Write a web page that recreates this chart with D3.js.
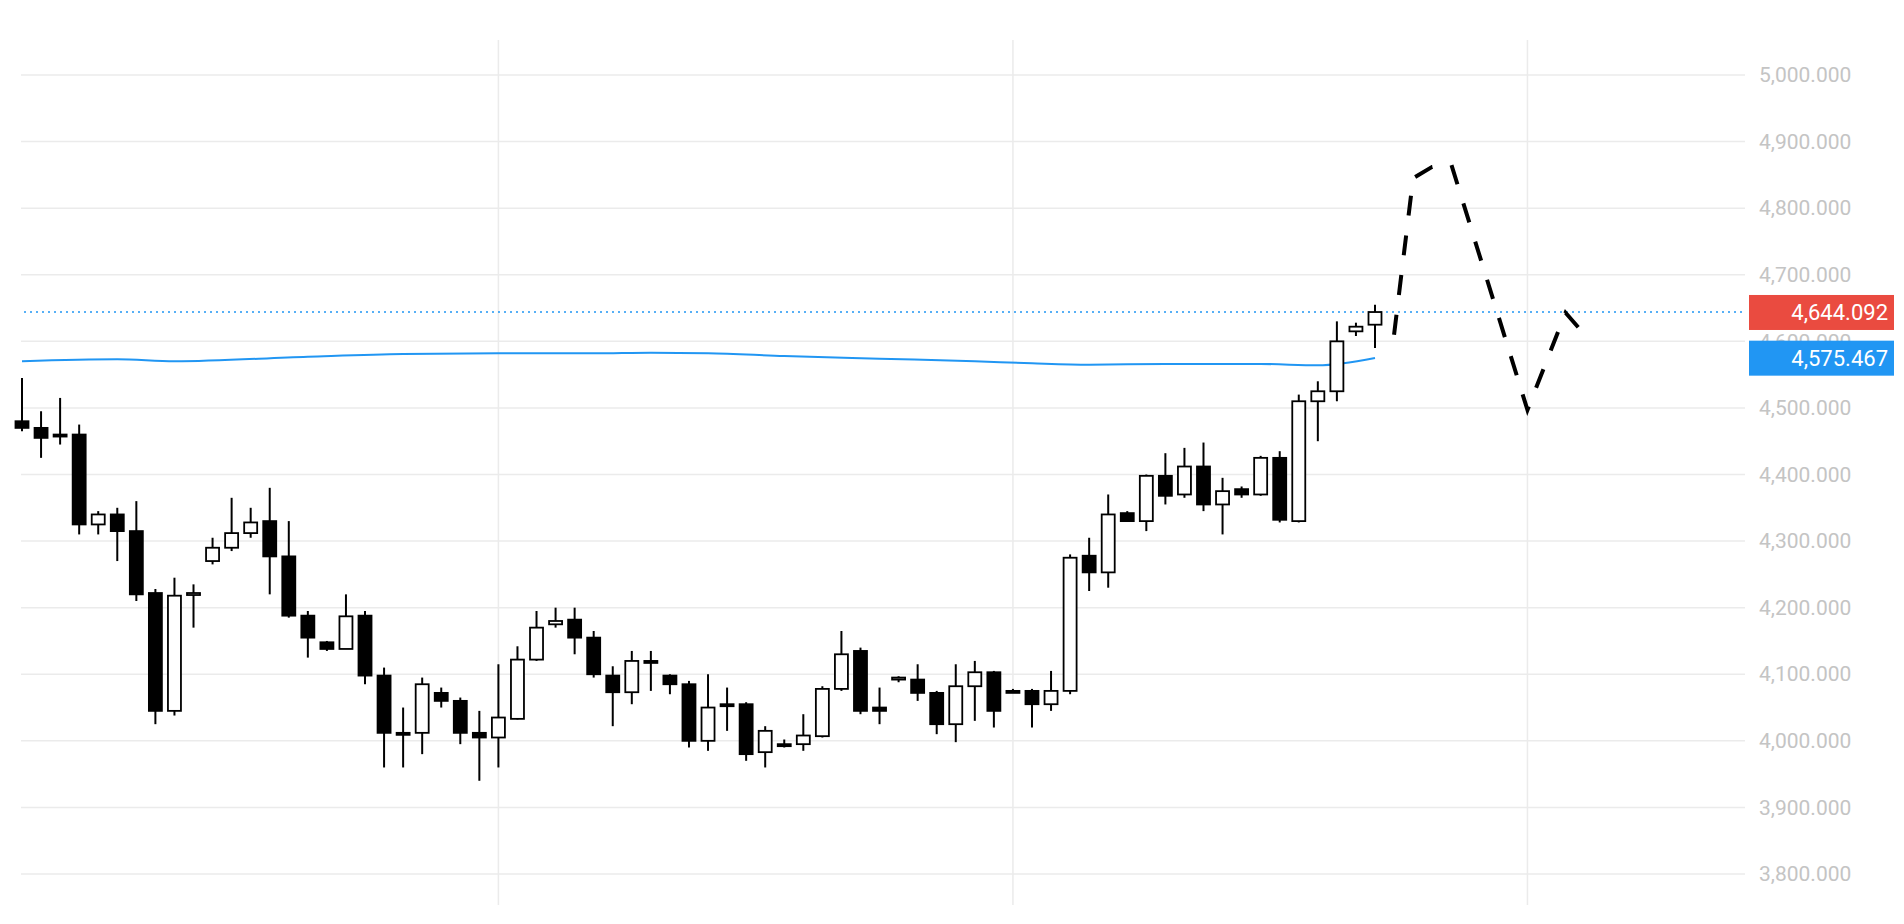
<!DOCTYPE html><html><head><meta charset="utf-8"><script src="https://cdn.jsdelivr.net/npm/d3@7"></script>
<style>body{margin:0;background:#fff}svg{display:block;font-family:"Helvetica Neue",Roboto,Arial,sans-serif}</style></head><body><svg id="c" width="1904" height="924"></svg><script>
const opens=[4480,4470,4460,4460,4325,4340,4315,4222,4045,4220,4270,4290,4312,4330,4277,4188,4148,4138,4188,4098,4012,4012,4072,4060,4012,4005,4033,4122,4175,4182,4155,4098,4073,4120,4098,4085,4000,4055,4055,3983,3995,3995,4007,4078,4135,4050,4093,4092,4072,4025,4082,4103,4075,4075,4055,4075,4278,4253,4342,4330,4398,4370,4412,4355,4378,4370,4425,4330,4510,4525,4615,4625];
const closes=[4470,4455,4458,4325,4340,4315,4220,4045,4218,4222,4290,4312,4328,4277,4188,4155,4138,4187,4098,4012,4010,4085,4060,4012,4005,4035,4122,4170,4180,4155,4100,4073,4120,4118,4085,4000,4050,4053,3980,4015,3993,4008,4078,4130,4045,4045,4095,4072,4025,4082,4103,4045,4074,4055,4075,4275,4253,4340,4330,4398,4368,4412,4355,4375,4370,4425,4332,4510,4525,4600,4622,4644];
const highs=[4545,4495,4515,4475,4345,4350,4360,4228,4245,4235,4305,4365,4350,4380,4330,4195,4150,4220,4195,4110,4050,4095,4080,4065,4045,4115,4142,4195,4200,4200,4165,4112,4135,4135,4100,4090,4100,4080,4058,4022,4002,4040,4082,4165,4140,4080,4097,4115,4075,4115,4120,4105,4078,4078,4105,4280,4305,4370,4345,4400,4432,4440,4448,4395,4382,4428,4435,4520,4540,4630,4628,4655];
const lows=[4465,4425,4445,4310,4310,4270,4210,4025,4038,4170,4265,4285,4305,4220,4185,4125,4135,4138,4085,3960,3960,3980,4050,3995,3940,3960,4032,4120,4170,4130,4095,4022,4055,4075,4070,3990,3985,4015,3970,3960,3990,3985,4005,4075,4040,4025,4088,4060,4010,3998,4030,4020,4072,4020,4045,4070,4225,4230,4330,4315,4355,4365,4345,4310,4365,4368,4328,4328,4450,4510,4608,4590];
const maIdx=[0,5,8,15,20,25,30,33,36,40,45,50,53,56,60,65,68,71];
const maVal=[4570,4573,4570,4577,4581,4582,4582,4583,4582,4578,4574,4570,4567,4565,4566,4566,4564,4575];
const fcIdx=[72,73,74,75,79,81,82];
const fcVal=[4610,4845,4862,4866,4497,4643,4610];
const yTicks=[3800,3900,4000,4100,4200,4300,4400,4500,4600,4700,4800,4900,5000];
const vGrid=[25,52,79];
const lastPrice=4644.092, maLast=4575.467;

const svg=d3.select("#c");
const x=d3.scaleLinear().domain([0,71]).range([22,1375]);
const y=d3.scaleLinear().domain([3800,5000]).range([874,75]);
const fmt=d3.format(",.3f");
const g=svg.append("g");
g.selectAll(".hg").data(yTicks).join("line").attr("x1",21).attr("x2",1745).attr("y1",d=>y(d)).attr("y2",d=>y(d)).attr("stroke","#ebebeb").attr("stroke-width",1.5);
g.selectAll(".vg").data(vGrid).join("line").attr("x1",d=>x(d)).attr("x2",d=>x(d)).attr("y1",40).attr("y2",905).attr("stroke","#ebebeb").attr("stroke-width",1.5);
const ax=svg.append("g").attr("transform","translate(1745,0)").call(d3.axisRight(y).tickValues(yTicks).tickFormat(fmt).tickSize(0).tickPadding(14));
ax.select(".domain").remove();
ax.selectAll("text").attr("fill","#c4c4c4").style("font-size","21px").style("font-family","Helvetica Neue,Roboto,Arial,sans-serif");
svg.append("line").attr("x1",24).attr("x2",1745).attr("y1",y(lastPrice)).attr("y2",y(lastPrice)).attr("stroke","#2196f3").attr("stroke-width",1.5).attr("stroke-dasharray","2,4");
svg.append("path").datum(maIdx.map((d,i)=>[d,maVal[i]])).attr("d",d3.line().x(d=>x(d[0])).y(d=>y(d[1])).curve(d3.curveMonotoneX)).attr("fill","none").attr("stroke","#2196f3").attr("stroke-width",2);
const idx=d3.range(opens.length);
const cg=svg.append("g");
cg.selectAll(".w").data(idx).join("line").attr("x1",i=>x(i)).attr("x2",i=>x(i)).attr("y1",i=>y(highs[i])).attr("y2",i=>y(lows[i])).attr("stroke","#000").attr("stroke-width",2);
const bw=13;
cg.selectAll(".b").data(idx).join("rect").attr("x",i=>x(i)-bw/2).attr("width",bw)
 .attr("y",i=>y(Math.max(opens[i],closes[i]))).attr("height",i=>Math.max(2,Math.abs(y(opens[i])-y(closes[i]))))
 .attr("fill",i=>closes[i]>opens[i]?"#fff":"#000").attr("stroke","#000").attr("stroke-width",1.8);
svg.append("path").datum(fcIdx.map((d,i)=>[d,fcVal[i]])).attr("d",d3.line().x(d=>x(d[0])).y(d=>y(d[1]))).attr("fill","none").attr("stroke","#000").attr("stroke-width",4).attr("stroke-dasharray","20,20");
[[lastPrice,"#ea4b40"],[maLast,"#2196f3"]].forEach(([v,c])=>{
 svg.append("rect").attr("x",1749).attr("y",y(v)-17).attr("width",145).attr("height",35).attr("fill",c);
 svg.append("text").attr("x",1888).attr("y",y(v)+8).attr("text-anchor","end").attr("fill","#fff").style("font-size","22px").text(fmt(v));
});
</script></body></html>
